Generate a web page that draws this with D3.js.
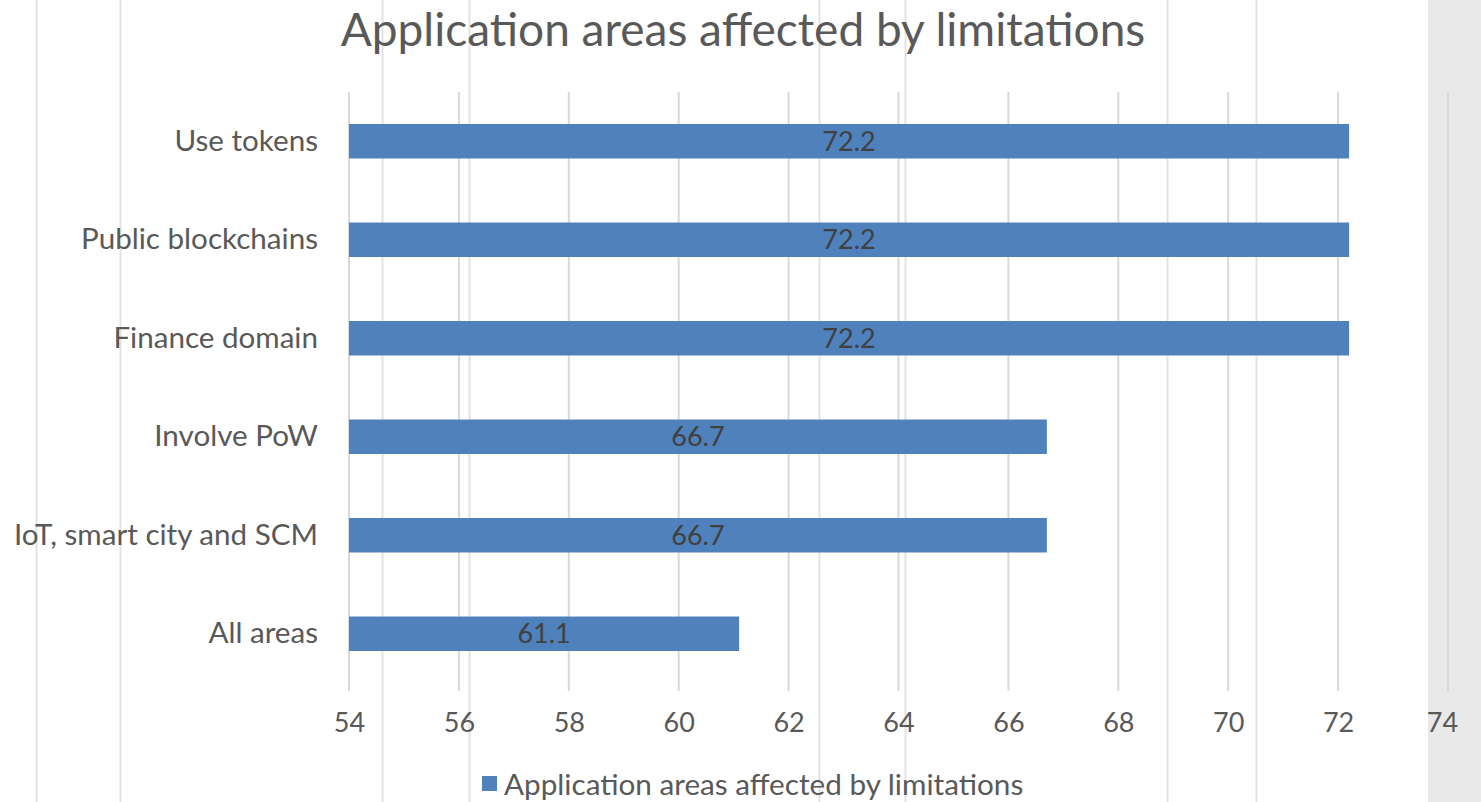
<!DOCTYPE html>
<html>
<head>
<meta charset="utf-8">
<script src="https://cdn.jsdelivr.net/npm/d3@7"></script>
<style>
  html, body { margin: 0; padding: 0; background: #ffffff; }
  svg { display: block; font-family: Lato, "Open Sans", sans-serif; }
</style>
</head>
<body>
<svg id="chart" width="1481" height="802"></svg>
<script>
// Categories, top to bottom
const categories = [
  "Use tokens",
  "Public blockchains",
  "Finance domain",
  "Involve PoW",
  "IoT, smart city and SCM",
  "All areas"
];
// Share of studies (%) for each application area
const values = [72.2, 72.2, 72.2, 66.7, 66.7, 61.1];
// Value axis ticks
const xTicks = [54, 56, 58, 60, 62, 64, 66, 68, 70, 72, 74];
const seriesName = "Application areas affected by limitations";
const chartTitle = "Application areas affected by limitations";

const W = 1481, H = 802;
const plot = { left: 349, right: 1448, top: 92, bottom: 683 };
const barColor = "#4f81bd";
const textColor = "#595959";
const fontStack = 'Lato, "Open Sans", sans-serif';

const svg = d3.select("#chart");

// Worksheet backdrop: grey margin on the right and faint cell borders
svg.append("rect").attr("x", 1428).attr("y", 0).attr("width", W - 1428).attr("height", H)
  .attr("fill", "#e9e9e9");
const sheetLines = [36, 120, 382, 469, 819, 905, 1167, 1256];
svg.append("g").selectAll("line").data(sheetLines).join("line")
  .attr("x1", d => d + 0.5).attr("x2", d => d + 0.5)
  .attr("y1", 0).attr("y2", H)
  .attr("stroke", "#e3e3e3").attr("stroke-width", 2);

const x = d3.scaleLinear().domain([54, 74]).range([plot.left, plot.right]);
const y = d3.scaleBand().domain(categories).range([plot.top, plot.bottom]).paddingInner(0.65).paddingOuter(0.325);

// Vertical gridlines
svg.append("g").selectAll("line").data(xTicks).join("line")
  .attr("x1", d => x(d)).attr("x2", d => x(d))
  .attr("y1", plot.top).attr("y2", plot.bottom + 8)
  .attr("stroke", "#d9d9d9").attr("stroke-width", 2);

// Bars
svg.append("g").selectAll("rect").data(categories).join("rect")
  .attr("x", x(54))
  .attr("y", d => y(d))
  .attr("width", (d, i) => x(values[i]) - x(54))
  .attr("height", y.bandwidth())
  .attr("fill", barColor);

// Value labels centred in the bars
svg.append("g").selectAll("text").data(categories).join("text")
  .attr("x", (d, i) => (x(54) + x(values[i])) / 2)
  .attr("y", d => y(d) + y.bandwidth() / 2)
  .attr("dy", "0.36em")
  .attr("text-anchor", "middle")
  .attr("font-size", 27)
  .attr("fill", "#404040")
  .text((d, i) => values[i].toFixed(1));

// Category axis labels
const yAxis = d3.axisLeft(y).tickSize(0).tickPadding(31);
const yg = svg.append("g").attr("transform", `translate(${plot.left},0)`).call(yAxis)
  .attr("font-family", fontStack).attr("font-size", 29.6);
yg.select(".domain").remove();
yg.selectAll("text").attr("fill", textColor);

// Value axis labels
const xAxis = d3.axisBottom(x).tickValues(xTicks).tickSize(0).tickPadding(22).tickFormat(d3.format("d"));
const xg = svg.append("g").attr("transform", `translate(0,${plot.bottom + 8})`).call(xAxis)
  .attr("font-family", fontStack).attr("font-size", 27);
xg.select(".domain").remove();
xg.selectAll("text").attr("fill", textColor);
// The last label is nudged left so it stays clear of the edge
xg.selectAll(".tick").filter(d => d === 74).select("text").attr("dx", -6);

// Title
svg.append("text")
  .attr("x", 743).attr("y", 46)
  .attr("text-anchor", "middle")
  .attr("font-size", 46)
  .attr("fill", textColor)
  .text(chartTitle);

// Legend
const lg = svg.append("g").attr("transform", "translate(482,776)");
lg.append("rect").attr("width", 15).attr("height", 15).attr("fill", barColor);
lg.append("text").attr("x", 22).attr("y", 8).attr("dy", "0.36em")
  .attr("font-size", 29.7).attr("fill", textColor).text(seriesName);
</script>
</body>
</html>
